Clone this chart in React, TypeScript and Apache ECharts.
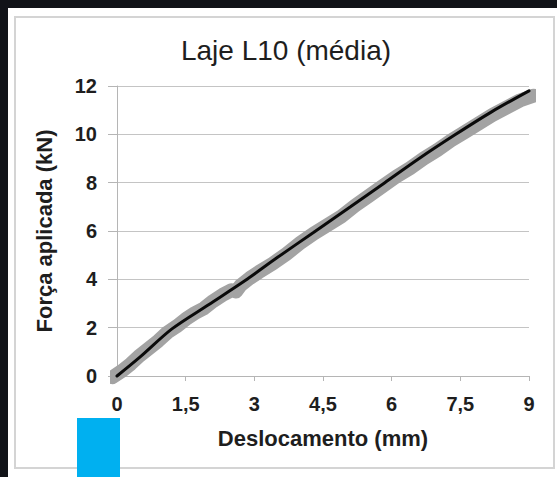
import React, { useEffect, useRef } from "react";
import * as echarts from "echarts";

const titleText = "Laje L10 (média)";
const xName = "Deslocamento (mm)";
const yName = "Força aplicada (kN)";

// Black mean curve
const meanX = [0, 0.5, 1.2, 2.0, 2.8, 3.5, 4.3, 5.1, 5.85, 6.6, 7.4, 8.2, 9.0];
const meanY = [0, 0.78, 1.95, 2.95, 3.95, 4.9, 5.95, 7.0, 8.0, 9.0, 10.0, 10.95, 11.8];

// Gray experimental band
const rawX = [-0.1, 0.1, 0.3, 0.5, 0.7, 0.9, 1.1, 1.3, 1.5, 1.7, 1.9, 2.1, 2.3, 2.5, 2.6, 2.7, 2.9, 3.1, 3.4, 3.7, 4.0, 4.3, 4.6, 4.9, 5.2, 5.5, 5.8, 6.1, 6.4, 6.7, 7.0, 7.3, 7.6, 7.9, 8.2, 8.5, 8.8, 9.1];
const rawY = [-0.05, 0.2, 0.5, 0.85, 1.15, 1.45, 1.8, 2.05, 2.35, 2.6, 2.8, 3.1, 3.35, 3.55, 3.5, 3.75, 4.05, 4.3, 4.65, 5.05, 5.5, 5.9, 6.25, 6.6, 7.05, 7.45, 7.85, 8.25, 8.6, 9.0, 9.35, 9.75, 10.1, 10.45, 10.8, 11.1, 11.4, 11.6];

const xMin = 0, xMax = 9, xStep = 1.5;
const yMin = 0, yMax = 12, yStep = 2;

export default function App() {
  const ref = useRef<HTMLDivElement>(null);
  useEffect(() => {
    if (!ref.current) return;
    const chart = echarts.init(ref.current, null, { renderer: "svg" });
    const labelFont = { fontFamily: "Liberation Sans", fontWeight: "bold" as const, color: "#1e1e1e" };
    chart.setOption({
      animation: false,
      backgroundColor: "#111318",
      graphic: [
        { type: "rect", z: -10, shape: { x: 8, y: 8, width: 549, height: 469 }, style: { fill: "#ffffff" } },
        { type: "rect", z: -9, shape: { x: 15, y: 17, width: 539, height: 451 }, style: { fill: "#ffffff", stroke: "#d4d4d4", lineWidth: 2 } },
        { type: "rect", z: 100, shape: { x: 77, y: 418, width: 43, height: 59 }, style: { fill: "#00b0f0" } },
      ],
      title: {
        text: titleText,
        left: 281,
        textAlign: "center",
        top: 31,
        textStyle: { fontFamily: "Liberation Sans", fontWeight: "normal", fontSize: 28, color: "#1e1e1e" },
      },
      grid: { left: 117, right: 28, top: 86, bottom: 101 },
      xAxis: {
        type: "value",
        min: xMin, max: xMax, interval: xStep,
        name: xName, nameLocation: "middle", nameGap: 51,
        nameTextStyle: { ...labelFont, fontSize: 22 },
        axisLine: { show: true, lineStyle: { color: "#b5b5b5", width: 1 } },
        axisTick: { show: true, inside: false, length: 5, lineStyle: { color: "#b5b5b5" } },
        axisLabel: { ...labelFont, fontSize: 20, margin: 18, formatter: (v: number) => String(v).replace(".", ",") },
        splitLine: { show: false },
      },
      yAxis: {
        type: "value",
        min: yMin, max: yMax, interval: yStep,
        name: yName, nameLocation: "middle", nameGap: 62, nameRotate: 90,
        nameTextStyle: { ...labelFont, fontSize: 22 },
        axisLine: { show: true, lineStyle: { color: "#b5b5b5", width: 1 } },
        axisTick: { show: true, inside: false, length: 9, lineStyle: { color: "#b5b5b5" } },
        axisLabel: { ...labelFont, fontSize: 20, margin: 20 },
        splitLine: { show: true, lineStyle: { color: "#c4c4c4", width: 1 } },
      },
      series: [
        {
          type: "line",
          data: rawX.map((x, i) => [x, rawY[i]]),
          showSymbol: false,
          symbol: "none",
          clip: false,
          lineStyle: { color: "#a3a3a3", width: 14, cap: "round", join: "round" },
          z: 3,
        },
        {
          type: "line",
          data: meanX.map((x, i) => [x, meanY[i]]),
          showSymbol: false,
          symbol: "none",
          smooth: 0.3,
          clip: false,
          lineStyle: { color: "#0a0a0a", width: 3, cap: "round" },
          z: 4,
        },
      ],
    });
    return () => chart.dispose();
  }, []);
  return <div ref={ref} style={{ position: "fixed", left: 0, top: 0, width: 557, height: 477 }} />;
}
